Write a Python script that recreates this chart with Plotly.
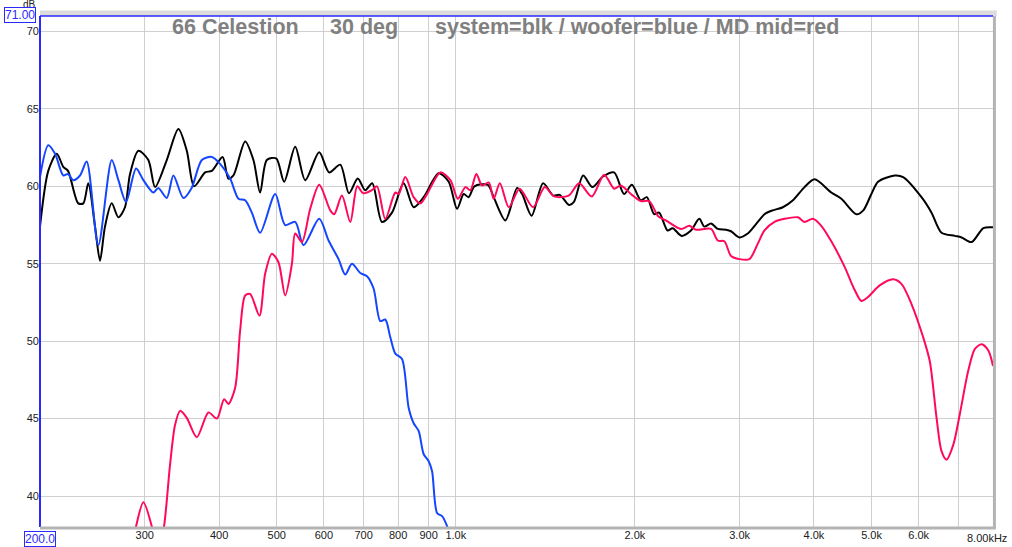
import math
import plotly.graph_objects as go

# ---- data (Hz, dB) ----
sys_freq = [200, 206.5, 213.4, 218.9, 222.9, 231.9, 236.5, 241.1, 247.5, 252.3, 257.2, 264.0, 270.9, 277.9,
            283.4, 292.7, 304.2, 312.2, 326.7, 341.7, 353.0, 363.2, 379.0, 388.9, 405.5, 414.7, 422.9, 442.5,
            456.9, 468.9, 481.2, 499.0, 514.6, 537.1, 558.3, 589.4, 612.6, 639.4, 661.3, 684.2, 704.4, 723.8,
            751.5, 781.2, 817.2, 849.5, 883.1, 935.9, 972.9, 1005, 1031, 1051, 1075, 1132, 1158, 1212, 1268,
            1293, 1341, 1402, 1458, 1495, 1550, 1580, 1637, 1697, 1770, 1846, 1918, 1977, 2047, 2095, 2155,
            2197, 2270, 2315, 2397, 2485, 2567, 2617, 2686, 2757, 2847, 2902, 2997, 3096, 3219, 3303, 3412,
            3547, 3688, 3857, 4010, 4278, 4448, 4714, 4843, 4996, 5127, 5469, 5650, 6066, 6306, 6555, 6902,
            7084, 7364, 7707, 8000]
sys_db = [57.4, 61.0, 62.1, 61.25, 61.0, 58.9, 58.9, 60.2, 57.4, 55.2, 57.4, 58.9, 58.0, 58.65,
          60.8, 62.3, 61.7, 59.95, 61.7, 63.7, 62.3, 60.0, 60.9, 61.0, 61.9, 60.5, 60.7, 62.9,
          61.7, 59.6, 61.7, 61.8, 60.3, 62.55, 60.4, 62.2, 60.9, 61.4, 59.55, 60.5, 59.75, 60.2,
          57.7, 58.3, 60.2, 58.65, 59.3, 60.85, 60.3, 58.55, 59.5, 59.3, 60.0, 60.1, 59.3, 57.8, 59.9,
          59.5, 58.1, 60.2, 59.4, 59.45, 58.8, 59.0, 60.7, 59.95, 60.65, 60.9, 59.5, 60.1, 59.1, 59.3, 58.2,
          58.3, 57.15, 57.3, 56.8, 57.15, 57.9, 57.4, 57.6, 57.25, 57.2, 57.1, 56.7, 56.95, 57.7, 58.2, 58.45,
          58.65, 59.1, 59.95, 60.45, 59.6, 59.2, 58.2, 58.45, 59.5, 60.3, 60.7, 60.6, 59.3, 58.3, 57.0, 56.8,
          56.7, 56.4, 57.3, 57.35]

woofer_freq = [200, 206.5, 212.0, 218.9, 222.9, 227.5, 233.5, 239.6, 250.6, 264.0, 270.9, 279.0, 290.1,
               298.4, 310.2, 316.2, 326.7, 335.2, 348.4, 359.7, 374.2, 388.9, 401.6, 417.5, 431.2, 442.5,
               454.1, 468.9, 497.1, 516.6, 537.1, 554.7, 589.4, 611.1, 635.2, 651.9, 669.1, 690.9, 709.1,
               727.5, 746.6, 761.2, 776.1, 791.3, 812.1, 833.2, 849.5, 866.1, 883.1, 900.3, 912.3, 930.1,
               948.3, 966.9, 979.3]
woofer_db = [60.6, 62.65, 62.1, 60.7, 60.8, 60.4, 60.7, 61.6, 56.2, 61.7, 60.4, 59.0, 61.15,
             60.4, 59.6, 59.9, 59.25, 60.7, 59.25, 59.9, 61.7, 61.9, 61.45, 60.5, 59.2, 59.1,
             58.3, 57.0, 59.5, 57.5, 57.7, 56.2, 57.9, 56.5, 55.3, 54.3, 55.0, 54.4, 54.2,
             53.4, 51.3, 51.4, 50.25, 49.2, 48.85, 45.7, 44.7, 44.2, 42.7, 42.25, 41.6, 38.9,
             38.7, 38.05, 37.3]

mid_freq = [283.4, 290.1, 298.4, 308.2, 315.2, 323.3, 330.9, 337.4, 344.0, 353.0, 367.0, 383.9, 396.6,
            407.9, 414.7, 425.7, 434.0, 442.5, 451.1, 467.6, 478.1, 490.7, 503.4, 516.6, 530.3, 537.1,
            551.2, 569.2, 589.4, 615.1, 624.7, 643.6, 664.7, 683.0, 699.0, 722.9, 737.1, 761.2, 791.3,
            801.5, 822.6, 849.5, 871.8, 894.7, 942.1, 979.3, 1008, 1038, 1058, 1083, 1107, 1136, 1158,
            1186, 1228, 1280, 1349, 1411, 1463, 1548, 1612, 1693, 1776, 1846, 1894, 1977, 2047, 2114,
            2191, 2255, 2391, 2469, 2534, 2686, 2757, 2828, 2902, 2997, 3116, 3219, 3303, 3434, 3569,
            3759, 3857, 3984, 4115, 4278, 4505, 4684, 4806, 4932, 5159, 5435, 5613, 5835, 6106, 6264,
            6430, 6555, 6683, 6859, 7037, 7270, 7459, 7656, 7857, 8000]
mid_db = [36.0, 38.05, 39.6, 38.05, 36.0, 38.05, 42.05, 44.6, 45.5, 45.05, 43.8, 45.4, 45.0,
          46.25, 45.95, 47.0, 50.7, 52.95, 53.05, 51.65, 54.35, 55.65, 55.1, 52.95, 55.0, 56.95,
          56.4, 58.55, 60.1, 58.45, 58.2, 59.4, 57.7, 60.0, 59.55, 59.75, 60.0, 57.9, 59.6,
          59.5, 60.6, 59.3, 58.9, 59.5, 60.9, 60.4, 59.2, 59.95, 59.75, 60.8, 60.05, 60.25, 59.2,
          60.2, 58.65, 59.85, 58.65, 59.95, 59.35, 59.4, 60.2, 59.35, 60.75, 59.85, 60.05, 59.45, 59.05, 59.05,
          58.05, 57.8, 57.25, 57.45, 57.2, 57.25, 56.5, 56.45, 55.5, 55.3, 55.3, 56.3, 57.15, 57.7, 57.9,
          58.0, 57.7, 57.9, 57.45, 56.45, 54.8, 53.3, 52.6, 52.85, 53.6, 54.0, 53.7, 52.4, 50.25, 48.7,
          45.05, 42.9, 42.35, 43.3, 45.3, 48.1, 49.5, 49.8, 49.4, 48.4]

x_tick_vals = [300, 400, 500, 600, 700, 800, 900, 1000, 2000, 3000, 4000, 5000, 6000, 7000]
x_tick_text = ["300", "400", "500", "600", "700", "800", "900", "1.0k", "2.0k", "3.0k", "4.0k", "5.0k", "6.0k", ""]
y_tick_vals = [40, 45, 50, 55, 60, 65, 70]
y_tick_text = ["40", "45", "50", "55", "60", "65", "70"]
x_range = [200, 8000]
y_range = [38, 71]

FONT = "Liberation Sans, Arial, sans-serif"

fig = go.Figure()
fig.add_trace(go.Scatter(x=sys_freq, y=sys_db, mode="lines", name="system",
                         line=dict(color="#000000", width=2, shape="spline", smoothing=0.8)))
fig.add_trace(go.Scatter(x=woofer_freq, y=woofer_db, mode="lines", name="woofer",
                         line=dict(color="#1446ff", width=2, shape="spline", smoothing=0.8)))
fig.add_trace(go.Scatter(x=mid_freq, y=mid_db, mode="lines", name="MD mid",
                         line=dict(color="#ff0a5a", width=2, shape="spline", smoothing=0.8)))

fig.update_layout(
    width=1012, height=547,
    margin=dict(l=40, r=19, t=16, b=20),
    paper_bgcolor="white", plot_bgcolor="white",
    showlegend=False,
    font=dict(family=FONT, size=11, color="#202020"),
    xaxis=dict(type="log", range=[math.log10(x_range[0]), math.log10(x_range[1])],
               tickvals=x_tick_vals, ticktext=x_tick_text, ticks="", automargin=False,
               showgrid=True, gridcolor="#cfcfcf", gridwidth=1, zeroline=False,
               showline=False, tickfont=dict(size=11, color="#202020")),
    yaxis=dict(range=y_range, tickvals=y_tick_vals, ticktext=y_tick_text, ticks="", automargin=False,
               showgrid=True, gridcolor="#cfcfcf", gridwidth=1, zeroline=False,
               showline=False, tickfont=dict(size=11, color="#202020")),
)

# frame: gray shadow top, blue left/top, gray right/bottom
shapes = [
    dict(type="rect", xref="paper", yref="paper", x0=0, x1=1.004, y0=1.0, y1=1.011,
         fillcolor="#dcdcdc", line=dict(width=0), layer="above"),
    dict(type="line", xref="paper", yref="paper", x0=0, x1=1.0, y0=1.0, y1=1.0,
         line=dict(color="#2a2aff", width=1.5), layer="above"),
    dict(type="line", xref="paper", yref="paper", x0=0, x1=0, y0=0, y1=1.0,
         line=dict(color="#2a2aff", width=2), layer="above"),
    dict(type="line", xref="paper", yref="paper", x0=0, x1=1.003, y0=-0.002, y1=-0.002,
         line=dict(color="#b4b4b4", width=3), layer="above"),
    dict(type="line", xref="paper", yref="paper", x0=1.0015, x1=1.0015, y0=-0.002, y1=1.0,
         line=dict(color="#b4b4b4", width=3), layer="above"),
]
fig.update_layout(shapes=shapes)

title_font = dict(family=FONT, size=21.5, color="#808080")
ann = [
    dict(text="<b>66 Celestion</b>", x=(170 - 40) / 953, y=0.978, xanchor="left", yanchor="middle"),
    dict(text="<b>30 deg</b>", x=(328 - 40) / 953, y=0.978, xanchor="left", yanchor="middle"),
    dict(text="<b>system=blk / woofer=blue / MD mid=red</b>", x=(433 - 40) / 953, y=0.978,
         xanchor="left", yanchor="middle"),
]
for a in ann:
    fig.add_annotation(xref="paper", yref="paper", showarrow=False, font=title_font, **a)

fig.add_annotation(xref="paper", yref="paper", x=(29 - 40) / 953, y=(527 - 5) / 511, text="dB", showarrow=False,
                   font=dict(family=FONT, size=10, color="#202020"), xanchor="center", yanchor="middle")
fig.add_annotation(xref="paper", yref="paper", x=-0.021, y=1.001, text="71.00", showarrow=False,
                   font=dict(family=FONT, size=12, color="#2a2aff"), bgcolor="white",
                   bordercolor="#2a2aff", borderwidth=1, borderpad=0, xanchor="center", yanchor="middle")
fig.add_annotation(xref="paper", yref="paper", x=-0.0005, y=(527 - 539) / 511, text="200.0", showarrow=False,
                   font=dict(family=FONT, size=12, color="#2a2aff"), bgcolor="white",
                   bordercolor="#2a2aff", borderwidth=1, borderpad=0, xanchor="center", yanchor="middle")
fig.add_annotation(xref="paper", yref="paper", x=(987 - 40) / 953, y=(527 - 538) / 511, text="8.00kHz",
                   showarrow=False, font=dict(family=FONT, size=11, color="#202020"),
                   xanchor="center", yanchor="middle")

fig.write_html("out.html", config={"displayModeBar": False},
               post_script="document.body.style.margin='0';")
